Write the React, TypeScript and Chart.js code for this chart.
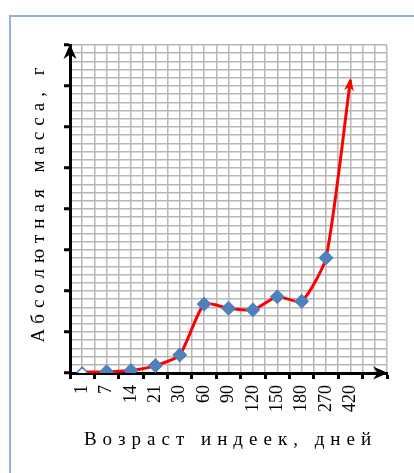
import { useEffect, useRef } from 'react';
import { Chart, registerables } from 'chart.js';

Chart.register(...registerables);

// ---- data ----
const categories = ['1', '7', '14', '21', '30', '60', '90', '120', '150', '180', '270', '420', ''];
const massValues: (number | null)[] = [0.02, 0.03, 0.06, 0.18, 0.44, 1.68, 1.58, 1.54, 1.86, 1.75, 2.81, 7.15, null];
const yMax = 8;
const yMinorStep = 0.2;
const xMinorSteps = 26;
const xTitle = 'Возраст индеек, дней';
const yTitle = 'Абсолютная масса, г';

const serif = "'Liberation Serif', 'Times New Roman', serif";
const gridColor = '#b8b8b8';
const markerBlue = '#4f81bd';
const lastIndex = massValues.reduce((acc: number, v, i) => (v !== null ? i : acc), 0);

function drawStealthArrow(ctx: CanvasRenderingContext2D, tx: number, ty: number, dx: number, dy: number, len: number, halfW: number, color: string) {
  const n = Math.hypot(dx, dy) || 1;
  const ux = dx / n, uy = dy / n;
  const px = -uy, py = ux;
  const bx = tx - ux * len, by = ty - uy * len;
  const nx = tx - ux * len * 0.7, ny = ty - uy * len * 0.7;
  ctx.save();
  ctx.fillStyle = color;
  ctx.beginPath();
  ctx.moveTo(tx, ty);
  ctx.lineTo(bx + px * halfW, by + py * halfW);
  ctx.lineTo(nx, ny);
  ctx.lineTo(bx - px * halfW, by - py * halfW);
  ctx.closePath();
  ctx.fill();
  ctx.restore();
}

const decorPlugin = {
  id: 'decor',
  afterDatasetsDraw(chart: any) {
    const ctx: CanvasRenderingContext2D = chart.ctx;
    const meta = chart.getDatasetMeta(0);
    const last = meta.data[lastIndex];
    const prev = meta.data[lastIndex - 1];
    if (last && prev) {
      const cx = last.cp1x ?? prev.x;
      const cy = last.cp1y ?? prev.y;
      let dx = last.x - cx, dy = last.y - cy;
      if (Math.hypot(dx, dy) < 0.5) { dx = last.x - prev.x; dy = last.y - prev.y; }
      const n = Math.hypot(dx, dy) || 1;
      drawStealthArrow(ctx, last.x + (dx / n) * 2, last.y + (dy / n) * 2, dx, dy, 13, 5, '#ff0000');
    }
  },
  afterDraw(chart: any) {
    const ctx: CanvasRenderingContext2D = chart.ctx;
    const a = chart.chartArea;
    // axis arrows
    drawStealthArrow(ctx, a.left, a.top - 1, 0, -1, 15, 6.5, '#000');
    drawStealthArrow(ctx, a.right + 1, a.bottom, 1, 0, 15, 6.5, '#000');
    // titles
    const spacing = 6;
    ctx.save();
    ctx.fillStyle = '#000';
    ctx.font = `19px ${serif}`;
    (ctx as any).letterSpacing = `${spacing}px`;
    ctx.textAlign = 'center';
    ctx.textBaseline = 'alphabetic';
    ctx.fillText(xTitle, (a.left + a.right) / 2 + spacing / 2 - 1, a.bottom + 72);
    ctx.translate(a.left - 26, (a.top + a.bottom) / 2 - 4);
    ctx.rotate(-Math.PI / 2);
    ctx.fillText(yTitle, spacing / 2, 0);
    ctx.restore();
  },
};

const isMajor = (v: number) => Math.abs(v - Math.round(v)) < 1e-6;

export default function App() {
  const ref = useRef<HTMLCanvasElement>(null);
  useEffect(() => {
    if (!ref.current) return;
    const chart = new Chart(ref.current, {
      type: 'line',
      data: {
        labels: categories,
        datasets: [
          {
            data: massValues,
            xAxisID: 'x',
            yAxisID: 'y',
            borderColor: '#ff0000',
            borderWidth: 3,
            tension: 0.2,
            pointStyle: 'rectRot',
            pointRadius: (c: any) => (c.dataIndex === lastIndex ? 0 : c.dataIndex === 0 ? 5 : 7),
            pointBackgroundColor: (c: any) => (c.dataIndex === 0 ? '#ffffff' : markerBlue),
            pointBorderColor: markerBlue,
            pointBorderWidth: (c: any) => (c.dataIndex === 0 ? 1.5 : 1),
          } as any,
        ],
      },
      options: {
        animation: false,
        responsive: false,
        layout: { padding: { top: 45, right: 27, left: 0, bottom: 0 } },
        plugins: { legend: { display: false }, tooltip: { enabled: false } },
        scales: {
          x: {
            type: 'category',
            position: 'bottom',
            offset: true,
            grid: { display: true, drawOnChartArea: false, offset: true, tickLength: 6, tickWidth: 3, tickColor: '#000' },
            border: { display: true, color: '#000', width: 3 },
            ticks: { autoSkip: false, minRotation: 90, maxRotation: 90, padding: 6, color: '#000', font: { family: serif, size: 18 } },
            afterFit: (s: any) => { s.height = 100; s.paddingLeft = 0; s.paddingRight = 0; },
          },
          xg: {
            type: 'linear',
            position: 'top',
            min: 0,
            max: xMinorSteps,
            ticks: { display: false, stepSize: 1 },
            grid: { color: gridColor, lineWidth: 1.5, drawTicks: false, tickLength: 0, z: -1 },
            border: { display: false },
            afterFit: (s: any) => { s.height = 0; s.paddingLeft = 0; s.paddingRight = 0; },
          },
          y: {
            type: 'linear',
            position: 'left',
            min: 0,
            max: yMax,
            ticks: { display: false, stepSize: yMinorStep },
            grid: {
              color: gridColor,
              lineWidth: 1.5,
              tickLength: 6,
              tickWidth: 3,
              z: -1,
              tickColor: (c: any) => (c.tick && isMajor(c.tick.value) ? '#000' : 'rgba(0,0,0,0)'),
            },
            border: { display: true, color: '#000', width: 3 },
            afterFit: (s: any) => { s.width = 70; s.paddingTop = 0; s.paddingBottom = 0; },
          },
        } as any,
      },
      plugins: [decorPlugin],
    } as any);
    return () => chart.destroy();
  }, []);
  return (
    <div style={{ position: 'fixed', left: 0, top: 0, width: 414, height: 473, overflow: 'hidden', background: '#fff' }}>
      <div style={{ position: 'absolute', left: 9, top: 15, width: 440, height: 500, border: '2px solid #95b3d7', boxSizing: 'border-box' }} />
      <canvas ref={ref} width={414} height={473} style={{ position: 'absolute', left: 0, top: 0 }} />
    </div>
  );
}
